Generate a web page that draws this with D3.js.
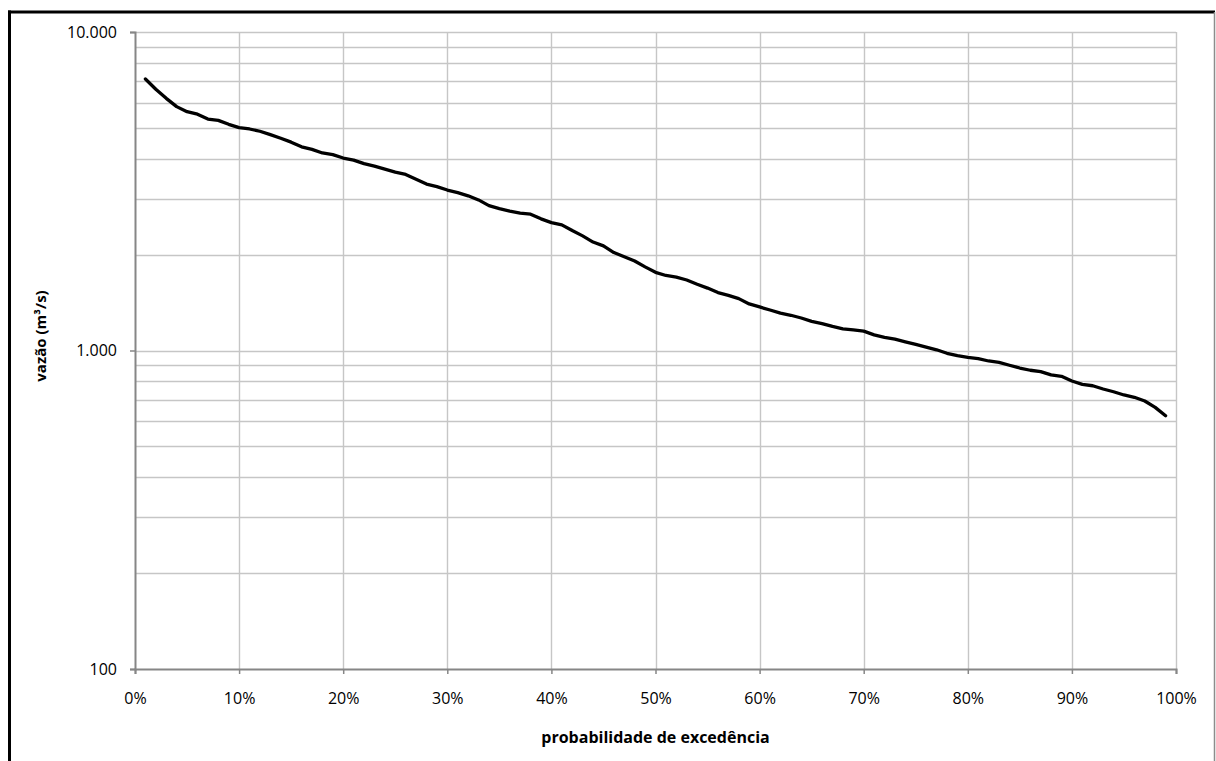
<!DOCTYPE html>
<html>
<head>
<meta charset="utf-8">
<script src="https://cdn.jsdelivr.net/npm/d3@7"></script>
<style>
  html, body { margin: 0; padding: 0; background: #fff; }
  svg { display: block; }
  text { font-family: "Open Sans", "Liberation Sans", sans-serif; fill: #000; }
</style>
</head>
<body>
<svg id="chart" width="1216" height="761"></svg>
<script>
// Exceedance probability (%) and flow (m³/s)
const probabilities = d3.range(1, 100);
const flows = [
  7120, 6610, 6190, 5830, 5620, 5520, 5330, 5280, 5130, 5010,
  4960, 4880, 4760, 4640, 4510, 4360, 4280, 4170, 4120, 4020,
  3960, 3860, 3790, 3710, 3630, 3570, 3450, 3330, 3270, 3190,
  3130, 3060, 2970, 2850, 2790, 2740, 2700, 2680, 2590, 2520,
  2480, 2380, 2290, 2190, 2130, 2030, 1970, 1910, 1830, 1760,
  1720, 1700, 1665, 1615, 1570, 1520, 1490, 1455, 1400, 1370,
  1340, 1310, 1290, 1265, 1235, 1215, 1190, 1170, 1160, 1150,
  1120, 1100, 1085, 1065, 1045, 1025, 1005, 980, 963, 952,
  943, 927, 918, 899, 881, 867, 858, 838, 830, 802,
  783, 775, 757, 742, 725, 713, 694, 663, 624
];
const xTicks = d3.range(0, 101, 10);
const yMajorTicks = [100, 1000, 10000];
const yMinorTicks = [200, 300, 400, 500, 600, 700, 800, 900,
                     2000, 3000, 4000, 5000, 6000, 7000, 8000, 9000];
const xTitle = "probabilidade de excedência";
const yTitle = "vazão (m³/s)";

const svg = d3.select("#chart");
const pLeft = 135, pRight = 1176, pTop = 32, pBottom = 669;

const x = d3.scaleLinear().domain([0, 100]).range([pLeft, pRight]);
const y = d3.scaleLog().domain([100, 10000]).range([pBottom, pTop]);

// outer frame
svg.append("line").attr("x1", 9.5).attr("x2", 9.5).attr("y1", 10.5).attr("y2", 761)
  .attr("stroke", "#000").attr("stroke-width", 3);
svg.append("line").attr("x1", 8).attr("x2", 1215).attr("y1", 12).attr("y2", 12)
  .attr("stroke", "#000").attr("stroke-width", 3);
svg.append("line").attr("x1", 1214.5).attr("x2", 1214.5).attr("y1", 12).attr("y2", 761)
  .attr("stroke", "#8c8c8c").attr("stroke-width", 1.5);

// gridlines
const grid = svg.append("g");
grid.selectAll("line.h").data(yMinorTicks.concat([1000, 10000])).join("line")
  .attr("x1", pLeft).attr("x2", pRight)
  .attr("y1", d => Math.round(y(d)) + 0.5).attr("y2", d => Math.round(y(d)) + 0.5)
  .attr("stroke", "#c6c6c6").attr("stroke-width", 1.4);
grid.selectAll("line.v").data(xTicks.filter(d => d > 0)).join("line")
  .attr("x1", d => Math.round(x(d)) + 0.5).attr("x2", d => Math.round(x(d)) + 0.5)
  .attr("y1", pTop).attr("y2", pBottom)
  .attr("stroke", "#c6c6c6").attr("stroke-width", 1.4);

// axes
const xAxis = d3.axisBottom(x).tickValues(xTicks).tickSize(5).tickPadding(19)
  .tickFormat(d => d + "%");
const gx = svg.append("g").attr("transform", `translate(0,${pBottom})`).call(xAxis);
gx.select(".domain").attr("stroke", "#868686").attr("stroke-width", 2);
gx.selectAll(".tick line").attr("stroke", "#868686").attr("stroke-width", 1.5);
gx.selectAll(".tick text").attr("font-size", 16).attr("font-family", "Open Sans");

const yAxis = d3.axisLeft(y).tickValues(yMajorTicks).tickSize(5).tickPadding(13)
  .tickFormat(d => d3.format(",")(d).replace(/,/g, "."));
const gy = svg.append("g").attr("transform", `translate(${pLeft},0)`).call(yAxis);
gy.select(".domain").attr("stroke", "#868686").attr("stroke-width", 2);
gy.selectAll(".tick line").attr("stroke", "#868686").attr("stroke-width", 1.5);
gy.selectAll(".tick text").attr("font-size", 16).attr("font-family", "Open Sans");

// series line
const line = d3.line().x((d, i) => x(probabilities[i])).y(d => y(d));
svg.append("path").datum(flows).attr("d", line)
  .attr("fill", "none").attr("stroke", "#000").attr("stroke-width", 3.3)
  .attr("stroke-linejoin", "round").attr("stroke-linecap", "round");

// titles
svg.append("text").attr("x", 655.5).attr("y", 743)
  .attr("text-anchor", "middle").attr("font-size", 16).attr("font-weight", "bold")
  .text(xTitle);
svg.append("text").attr("transform", `translate(46,336) rotate(-90)`)
  .attr("text-anchor", "middle").attr("font-size", 15).attr("font-weight", "bold")
  .text(yTitle);
</script>
</body>
</html>
